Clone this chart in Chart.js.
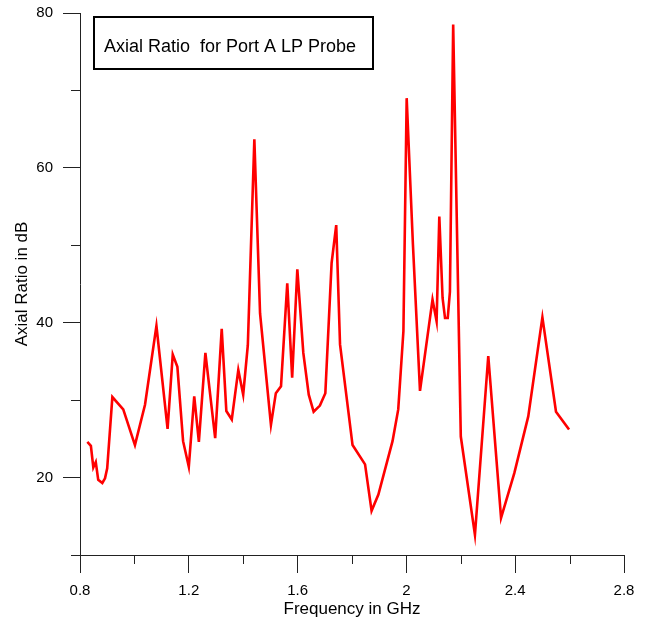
<!DOCTYPE html>
<html>
<head>
<meta charset="utf-8">
<script src="https://cdn.jsdelivr.net/npm/chart.js@4/dist/chart.umd.min.js"></script>
<style>
  html, body { margin: 0; padding: 0; background: #fff; }
  #wrap { width: 646px; height: 623px; }
</style>
</head>
<body>
<div id="wrap"><canvas id="grafico"></canvas></div>
<script>
// frequencia (GHz) e razao axial (dB)
const freq = [0.827, 0.840, 0.849, 0.858, 0.867, 0.882, 0.892, 0.900, 0.919, 0.959,
    1.002, 1.039, 1.081, 1.122, 1.141, 1.158, 1.179, 1.200, 1.220, 1.237,
    1.261, 1.297, 1.321, 1.338, 1.358, 1.382, 1.400, 1.417, 1.441, 1.462,
    1.502, 1.520, 1.539, 1.562, 1.580, 1.599, 1.621, 1.641, 1.659, 1.682,
    1.702, 1.725, 1.742, 1.756, 1.802, 1.848, 1.872, 1.897, 1.949, 1.970,
    1.989, 2.001, 2.024, 2.050, 2.096, 2.111, 2.121, 2.133, 2.142, 2.152,
    2.160, 2.172, 2.200, 2.252, 2.301, 2.348, 2.397, 2.448, 2.500, 2.550, 2.598];
const axialRatio = [24.6, 24.1, 21.3, 22.0, 19.7, 19.3, 19.9, 21.2, 30.4, 28.8,
    24.2, 29.4, 39.6, 26.3, 35.9, 34.3, 24.7, 21.4, 30.5, 24.6,
    36.1, 25.1, 39.2, 28.6, 27.5, 33.9, 30.7, 37.1, 63.7, 41.2,
    26.8, 30.9, 31.8, 45.1, 32.9, 46.9, 36.1, 30.7, 28.5, 29.3,
    30.9, 47.7, 52.6, 37.2, 24.2, 21.7, 15.7, 17.8, 24.7, 28.8,
    38.9, 69.0, 50.1, 31.2, 43.0, 40.2, 53.7, 43.2, 40.6, 40.6,
    44.0, 78.5, 25.3, 12.6, 35.7, 14.8, 20.6, 27.9, 40.7, 28.5, 26.2];

const xTicks = [0.8, 1.2, 1.6, 2.0, 2.4, 2.8];
const xTickLabels = ['0.8', '1.2', '1.6', '2', '2.4', '2.8'];
const xMinor = [1.0, 1.4, 1.8, 2.2, 2.6];
const yTicks = [20, 40, 60, 80];
const yTickLabels = ['20', '40', '60', '80'];
const yMinor = [10, 30, 50, 70];

const tituloCaixa = 'Axial Ratio  for Port A LP Probe';

const fonte = 'Arial, "Liberation Sans", Helvetica, sans-serif';

// marcas menores e caixa do titulo
const extras = {
    id: 'extras',
    afterDraw(chart) {
        const ctx = chart.ctx;
        const sx = chart.scales.x, sy = chart.scales.y;
        const area = chart.chartArea;
        ctx.save();
        ctx.strokeStyle = '#222';
        ctx.lineWidth = 1;
        ctx.beginPath();
        xMinor.forEach(v => {
            const px = Math.round(sx.getPixelForValue(v)) + 0.5;
            ctx.moveTo(px, area.bottom);
            ctx.lineTo(px, area.bottom + 9);
        });
        yMinor.forEach(v => {
            const py = Math.round(sy.getPixelForValue(v)) + 0.5;
            ctx.moveTo(area.left - 9, py);
            ctx.lineTo(area.left, py);
        });
        ctx.stroke();

        // caixa
        const bx = area.left + 14, by = area.top + 4, bw = 279, bh = 52;
        ctx.lineWidth = 2;
        ctx.strokeStyle = '#000';
        ctx.fillStyle = '#fff';
        ctx.fillRect(bx, by, bw, bh);
        ctx.strokeRect(bx, by, bw, bh);
        ctx.fillStyle = '#000';
        ctx.font = '18px ' + fonte;
        ctx.textBaseline = 'alphabetic';
        ctx.textAlign = 'left';
        ctx.fillText(tituloCaixa, bx + 10, by + 35);
        ctx.restore();
    }
};

new Chart(document.getElementById('grafico').getContext('2d'), {
    type: 'line',
    data: {
        datasets: [{
            label: 'Axial Ratio',
            data: freq.map((f, i) => ({ x: f, y: axialRatio[i] })),
            borderColor: '#ff0000',
            borderWidth: 2.6,
            pointRadius: 0,
            tension: 0,
            fill: false
        }]
    },
    options: {
        responsive: true,
        maintainAspectRatio: false,
        animation: false,
        layout: { padding: { top: 13, right: 22, left: 0, bottom: 0 } },
        plugins: {
            legend: { display: false },
            tooltip: { enabled: false }
        },
        scales: {
            x: {
                type: 'linear',
                min: 0.8,
                max: 2.8,
                afterBuildTicks: s => { s.ticks = xTicks.map(v => ({ value: v })); },
                afterFit: s => { s.height = 68; s.paddingLeft = 0; s.paddingRight = 0; },
                ticks: {
                    autoSkip: false,
                    maxRotation: 0,
                    padding: 9,
                    color: '#000',
                    font: { family: fonte, size: 15 },
                    callback: (v, i) => xTickLabels[i]
                },
                grid: {
                    drawOnChartArea: false,
                    drawTicks: true,
                    tickLength: 18,
                    tickColor: '#222',
                    tickWidth: 1
                },
                border: { display: true, color: '#222', width: 1 },
                title: {
                    display: true,
                    text: 'Frequency in GHz',
                    color: '#000',
                    font: { family: fonte, size: 17 },
                    padding: { top: 0, bottom: 3 }
                }
            },
            y: {
                type: 'linear',
                min: 10,
                max: 80,
                afterBuildTicks: s => { s.ticks = yTicks.map(v => ({ value: v })); },
                afterFit: s => { s.width = 80; s.paddingTop = 0; s.paddingBottom = 0; },
                ticks: {
                    autoSkip: false,
                    padding: 10,
                    color: '#000',
                    font: { family: fonte, size: 15 },
                    callback: (v, i) => yTickLabels[i]
                },
                grid: {
                    drawOnChartArea: false,
                    drawTicks: true,
                    tickLength: 17,
                    tickColor: '#222',
                    tickWidth: 1
                },
                border: { display: true, color: '#222', width: 1 },
                title: {
                    display: true,
                    text: 'Axial Ratio in dB',
                    color: '#000',
                    font: { family: fonte, size: 17 },
                    padding: { top: 12, bottom: 0 }
                }
            }
        }
    },
    plugins: [extras]
});
</script>
</body>
</html>
